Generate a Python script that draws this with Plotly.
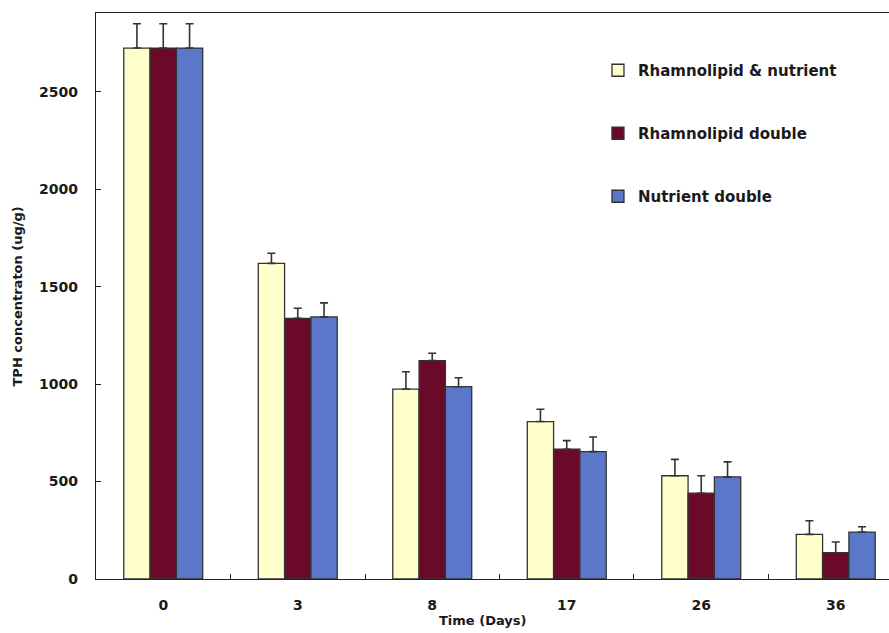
import plotly.graph_objects as go

# Sampling days (categories on the x axis)
days = ["0", "3", "8", "17", "26", "36"]

# TPH concentration (ug/g) per treatment
rhamno_nutrient = [2725, 1620, 975, 808, 530, 229]
rhamno_double = [2725, 1338, 1121, 666, 440, 135]
nutrient_double = [2725, 1345, 987, 654, 524, 241]

# Upper error (standard deviation)
err_rhamno_nutrient = [125, 52, 89, 63, 84, 70]
err_rhamno_double = [125, 52, 38, 44, 90, 55]
err_nutrient_double = [125, 72, 46, 75, 77, 27]

series = [
    ("Rhamnolipid & nutrient", rhamno_nutrient, err_rhamno_nutrient, "#FFFFCC"),
    ("Rhamnolipid double", rhamno_double, err_rhamno_double, "#6B0A28"),
    ("Nutrient double", nutrient_double, err_nutrient_double, "#5B77C9"),
]

fig = go.Figure()
for i, (name, vals, errs, color) in enumerate(series):
    fig.add_trace(go.Bar(
        x=days, y=vals, name=name, legendgroup=f"g{i}",
        marker=dict(color=color, line=dict(color="#333333", width=1.3)),
        error_y=dict(type="data", symmetric=False, array=errs,
                     arrayminus=[0] * len(errs),
                     color="#333333", thickness=1.6, width=4),
    ))

font_main = "DejaVu Sans"
fig.update_layout(
    width=889, height=633,
    margin=dict(l=96, r=0, t=13, b=54),
    paper_bgcolor="white", plot_bgcolor="white",
    barmode="group", bargap=0.413, bargroupgap=0,
    font=dict(family=font_main, size=14, color="#1a1a1a"),
    showlegend=True,
    legend=dict(
        x=0.633, y=0.9276, xanchor="left", yanchor="top",
        bgcolor="rgba(0,0,0,0)", tracegroupgap=40.5,
        font=dict(family=font_main, size=15, color="#1a1a1a", weight="bold"),
        itemwidth=30,
    ),
    xaxis=dict(
        type="category", range=[-0.5, 5.396],
        showline=True, linecolor="#222222", linewidth=1.3, mirror=True,
        ticks="inside", ticklen=5, tickcolor="#222222", tickson="boundaries",
        ticklabelstandoff=13,
        tickfont=dict(family=font_main, size=14, color="#1a1a1a", weight="bold"),
        showgrid=False, zeroline=False,
    ),
    yaxis=dict(
        range=[0, 2905], tickvals=[0, 500, 1000, 1500, 2000, 2500],
        showline=True, linecolor="#222222", linewidth=1.3,
        ticks="inside", ticklen=5, tickcolor="#222222",
        ticklabelstandoff=14,
        tickfont=dict(family=font_main, size=14, color="#1a1a1a", weight="bold"),
        showgrid=False, zeroline=False,
    ),
    annotations=[
        dict(text="Time (Days)", x=0.487, y=-0.073, xref="paper", yref="paper",
             xanchor="center", yanchor="middle", showarrow=False,
             font=dict(family=font_main, size=13, color="#1a1a1a", weight="bold")),
        dict(text="TPH concentraton (ug/g)", x=-0.099, y=0.5, xref="paper", yref="paper",
             xanchor="center", yanchor="middle", showarrow=False, textangle=-90,
             font=dict(family=font_main, size=13, color="#1a1a1a", weight="bold")),
    ],
)

fig.write_html("out.html")
